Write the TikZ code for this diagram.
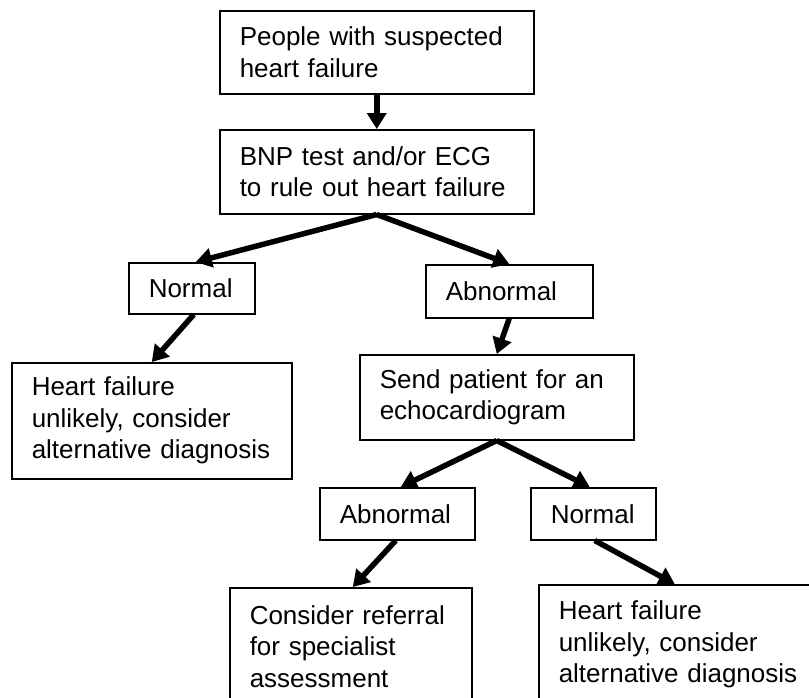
\documentclass[tikz,border=0pt]{standalone}
\usepackage{fontspec}
\setmainfont{Liberation Sans}
\usetikzlibrary{arrows.meta}
\tikzset{
  flowbox/.style={draw=black, line width=1.5pt, anchor=north west, inner xsep=20pt, inner ysep=0pt,
    align=left, font=\fontsize{26}{31.5}\selectfont},
  flowarrow/.style={line width=5.5pt, -{Triangle[length=16pt,width=19pt]}}
}
\begin{document}
\begin{tikzpicture}[x=1pt,y=-1pt]
\useasboundingbox (0,0) rectangle (809,697);
\clip (0,0) rectangle (809,697);
\node[flowbox, minimum width=314pt, minimum height=83pt, text width=274pt] (top) at (219,10) {People with suspected\\heart failure};
\node[flowbox, minimum width=314pt, minimum height=84pt, text width=274pt] (bnp) at (219,129) {BNP test and/or ECG\\to rule out heart failure};
\node[flowbox, minimum width=126pt, minimum height=51pt, text width=86pt] (norm1) at (128,262) {Normal};
\node[flowbox, minimum width=167pt, minimum height=53pt, text width=127pt] (abn1) at (425,264) {Abnormal};
\node[flowbox, minimum width=280pt, minimum height=116pt, text width=240pt] (hf1) at (11,362) {Heart failure\\unlikely, consider\\alternative diagnosis};
\node[flowbox, minimum width=274pt, minimum height=85pt, text width=234pt] (send) at (359,354) {Send patient for an\\echocardiogram};
\node[flowbox, minimum width=155pt, minimum height=52pt, text width=115pt] (abn2) at (319,487) {Abnormal};
\node[flowbox, minimum width=125pt, minimum height=52pt, text width=85pt] (norm2) at (530,487) {Normal};
\node[flowbox, minimum width=242pt, minimum height=117pt, text width=202pt] (cons) at (229,587) {Consider referral\\for specialist\\assessment};
\node[flowbox, minimum width=280pt, minimum height=120pt, text width=240pt] (hf2) at (538,584) {Heart failure\\unlikely, consider\\alternative diagnosis};
\draw[flowarrow] (top.south) -- (bnp.north);
\draw[flowarrow] (bnp.south) -- ([xshift=4pt]norm1.north);
\draw[flowarrow] (bnp.south) -- (abn1.north);
\draw[flowarrow] ([xshift=2pt]norm1.south) -- (hf1.north);
\draw[flowarrow] (abn1.south) -- (send.north);
\draw[flowarrow] (send.south) -- ([xshift=3.5pt]abn2.north);
\draw[flowarrow] (send.south) -- ([xshift=-3.5pt]norm2.north);
\draw[flowarrow] ([xshift=-1.5pt]abn2.south) -- ([xshift=2pt]cons.north);
\draw[flowarrow] ([xshift=1.5pt]norm2.south) -- ([xshift=-4pt]hf2.north);
\end{tikzpicture}
\end{document}
